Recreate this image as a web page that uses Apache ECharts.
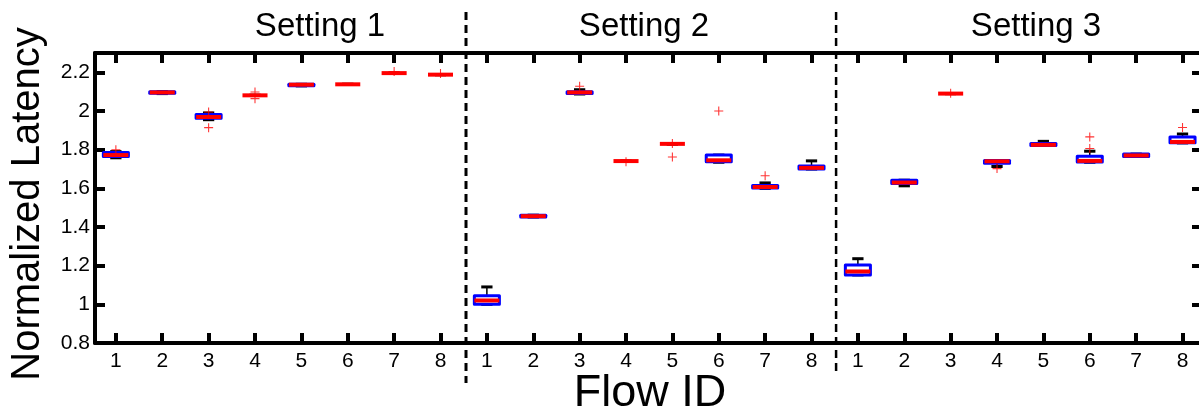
<!DOCTYPE html>
<html>
<head>
<meta charset="utf-8">
<script src="https://cdn.jsdelivr.net/npm/echarts@6/dist/echarts.min.js"></script>
<style>
  html, body { margin: 0; padding: 0; background: #fff; }
  #chart { width: 1199px; height: 412px; }
</style>
</head>
<body>
<div id="chart"></div>
<script>
// Labels
const settingNames = ['Setting 1', 'Setting 2', 'Setting 3'];
const flowLabels = ['1', '2', '3', '4', '5', '6', '7', '8'];
const yTickValues = [0.8, 1, 1.2, 1.4, 1.6, 1.8, 2, 2.2];

// Box statistics per flow: [min, Q1, median, Q3, max]
const setting1Boxes = [
  [1.758, 1.765, 1.772, 1.785, 1.790],
  [2.090, 2.092, 2.096, 2.100, 2.100],
  [1.955, 1.962, 1.969, 1.982, 1.990],
  [2.080, 2.080, 2.081, 2.082, 2.082],
  [2.130, 2.131, 2.136, 2.138, 2.138],
  [2.138, 2.138, 2.138, 2.138, 2.138],
  [2.196, 2.196, 2.196, 2.196, 2.196],
  [2.188, 2.188, 2.188, 2.188, 2.188]
];
const setting2Boxes = [
  [1.000, 1.000, 1.020, 1.045, 1.090],
  [1.452, 1.452, 1.456, 1.461, 1.461],
  [2.088, 2.090, 2.096, 2.100, 2.110],
  [1.740, 1.740, 1.741, 1.741, 1.741],
  [1.829, 1.829, 1.830, 1.830, 1.830],
  [1.735, 1.738, 1.745, 1.772, 1.772],
  [1.600, 1.602, 1.607, 1.615, 1.628],
  [1.700, 1.700, 1.706, 1.716, 1.742]
];
const setting3Boxes = [
  [1.152, 1.152, 1.170, 1.203, 1.236],
  [1.613, 1.625, 1.630, 1.642, 1.642],
  [2.090, 2.090, 2.090, 2.090, 2.090],
  [1.713, 1.730, 1.740, 1.744, 1.744],
  [1.822, 1.822, 1.825, 1.832, 1.843],
  [1.735, 1.736, 1.742, 1.766, 1.792],
  [1.765, 1.765, 1.770, 1.777, 1.777],
  [1.835, 1.836, 1.840, 1.866, 1.881]
];

// Outliers per setting: [flow, value]
const setting1Outliers = [[1, 1.800], [3, 1.995], [3, 1.914], [4, 2.098], [4, 2.064], [7, 2.204], [8, 2.194]];
const setting2Outliers = [[3, 2.128], [4, 1.738], [5, 1.832], [5, 1.762], [6, 2.000], [7, 1.665]];
const setting3Outliers = [[3, 2.092], [4, 1.702], [6, 1.806], [6, 1.866], [8, 1.915]];

const allBoxes = [setting1Boxes, setting2Boxes, setting3Boxes];
const allOutliers = [setting1Outliers, setting2Outliers, setting3Outliers];
const flowsPerSetting = flowLabels.length;

// Flows of all settings sit side by side on one shared x scale
const boxData = [];
const outlierData = [];
allBoxes.forEach((boxes, s) => {
  boxes.forEach((b, i) => boxData.push([s * flowsPerSetting + i + 1].concat(b)));
});
allOutliers.forEach((list, s) => {
  list.forEach(([flow, v]) => outlierData.push([s * flowsPerSetting + flow, v]));
});
const xTickValues = boxData.map(d => d[0]);
const separators = [8.55, 16.53];

const FONT = '"Liberation Sans", Arial, sans-serif';

function renderBox(params, api) {
  const x = api.value(0);
  const lo = api.coord([x, api.value(1)]);
  const q1 = api.coord([x, api.value(2)]);
  const md = api.coord([x, api.value(3)]);
  const q3 = api.coord([x, api.value(4)]);
  const hi = api.coord([x, api.value(5)]);
  const half = api.size([0.27, 0])[0];
  const cap = half * 0.45;
  const cx = md[0];
  const stem = { stroke: '#000', lineWidth: 1.5 };
  const capStyle = { stroke: '#000', lineWidth: 3 };
  const flat = q1[1] - q3[1] < 1;
  const children = [
    { type: 'line', shape: { x1: cx, y1: q3[1], x2: cx, y2: hi[1] }, style: stem },
    { type: 'line', shape: { x1: cx, y1: q1[1], x2: cx, y2: lo[1] }, style: stem },
    { type: 'line', shape: { x1: cx - cap, y1: hi[1], x2: cx + cap, y2: hi[1] }, style: capStyle },
    { type: 'line', shape: { x1: cx - cap, y1: lo[1], x2: cx + cap, y2: lo[1] }, style: capStyle }
  ];
  if (!flat) {
    children.push({
      type: 'rect',
      shape: { x: cx - half, y: q3[1], width: half * 2, height: q1[1] - q3[1] },
      style: { fill: '#fff', stroke: '#0000ff', lineWidth: 3, lineJoin: 'round' }
    });
  }
  children.push({
    type: 'line',
    shape: { x1: cx - half, y1: md[1], x2: cx + half, y2: md[1] },
    style: { stroke: '#ff0000', lineWidth: 4 }
  });
  return { type: 'group', children: children };
}

const axisLine = { show: true, onZero: false, lineStyle: { color: '#000', width: 4 } };
const tick = (values) => ({ show: true, inside: true, length: 10, customValues: values, lineStyle: { color: '#000', width: 4 } });

const chart = echarts.init(document.getElementById('chart'), null, { renderer: 'canvas' });
chart.setOption({
  animation: false,
  backgroundColor: '#fff',
  grid: { left: 95, top: 53, right: -3, bottom: 69, outerBoundsMode: 'none', containLabel: false },
  xAxis: [
    {
      type: 'value', position: 'bottom', min: 0.55, max: 24.42,
      axisLine: axisLine, axisTick: tick(xTickValues), splitLine: { show: false },
      axisLabel: {
        customValues: xTickValues, margin: 8, fontSize: 21, color: '#000', fontFamily: FONT,
        formatter: v => flowLabels[(Math.round(v) - 1) % flowsPerSetting]
      }
    },
    {
      type: 'value', position: 'top', min: 0.55, max: 24.42,
      axisLine: axisLine, axisTick: tick(xTickValues), splitLine: { show: false },
      axisLabel: { show: false }
    }
  ],
  yAxis: [
    {
      type: 'value', position: 'left', min: 0.8, max: 2.3,
      axisLine: axisLine, axisTick: tick(yTickValues), splitLine: { show: false },
      axisLabel: {
        customValues: yTickValues, margin: 5, fontSize: 21, color: '#000', fontFamily: FONT,
        formatter: v => String(Math.round(v * 10) / 10)
      }
    },
    {
      type: 'value', position: 'right', min: 0.8, max: 2.3,
      axisLine: axisLine, axisTick: tick(yTickValues), splitLine: { show: false },
      axisLabel: { show: false }
    }
  ],
  series: [
    {
      type: 'custom', name: 'box', xAxisIndex: 0, yAxisIndex: 0,
      renderItem: renderBox, data: boxData, z: 3,
      encode: { x: 0, y: [1, 2, 3, 4, 5] }
    },
    {
      type: 'scatter', name: 'outlier', xAxisIndex: 0, yAxisIndex: 0,
      data: outlierData, z: 4,
      symbol: 'path://M0,4.4H10V5.6H0Z M4.4,0H5.6V10H4.4Z',
      symbolSize: 9, itemStyle: { color: '#ff0000' }
    }
  ]
});

// Headings, axis titles and dashed separators between settings
const titleX = [320, 644, 1036];
const graphics = settingNames.map((name, i) => ({
  type: 'text', x: titleX[i], y: 27,
  style: { text: name, fontSize: 33, fontFamily: FONT, fill: '#000', align: 'center', verticalAlign: 'middle' }
}));
graphics.push({
  type: 'text', x: 650, y: 394,
  style: { text: 'Flow ID', fontSize: 45, fontFamily: FONT, fill: '#000', align: 'center', verticalAlign: 'middle' }
});
graphics.push({
  type: 'text', x: 28, y: 204, rotation: Math.PI / 2,
  style: { text: 'Normalized Latency', fontSize: 40, fontFamily: FONT, fill: '#000', align: 'center', verticalAlign: 'middle' }
});
const sepBottom = [383, 375];
const sepWidth = [3, 2.5];
separators.forEach((v, i) => {
  const px = chart.convertToPixel({ xAxisIndex: 0 }, v);
  graphics.push({
    type: 'line', z: 10,
    shape: { x1: px, y1: 12, x2: px, y2: sepBottom[i] },
    style: { stroke: '#000', lineWidth: sepWidth[i], lineDash: [8, 5] }
  });
});
chart.setOption({ graphic: graphics });
</script>
</body>
</html>
